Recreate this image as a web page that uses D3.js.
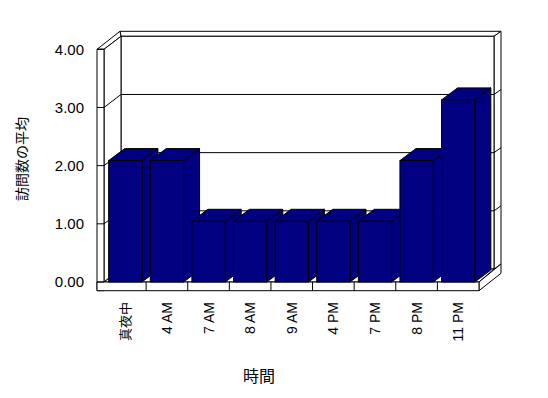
<!DOCTYPE html>
<html>
<head>
<meta charset="utf-8">
<script src="https://cdn.jsdelivr.net/npm/d3@7"></script>
<style>
  body { margin: 0; background: #fff; }
  text { font-family: "Liberation Sans", Arial, "Noto Sans CJK JP", sans-serif; fill: #000; }
</style>
</head>
<body>
<div id="chart"></div>
<script>
// data
var categories = ["真夜中", "4 AM", "7 AM", "8 AM", "9 AM", "4 PM", "7 PM", "8 PM", "11 PM"];
var values = [2, 2, 1, 1, 1, 1, 1, 2, 3];
var tickValues = [0, 1, 2, 3, 4];
var yTitle = "訪問数の平均";
var xTitle = "時間";

var width = 548, height = 398;
var navy = "#000080";

// 3D box geometry (front plane / back wall)
var front = { left: 97, inner: 104, right: 479, floorTop: 282, floorBottom: 290.7 };
var depth = { dx: 17, dy: -13 };     // front -> back wall inner face
var wall = { dx: 7, dy: -5 };        // back wall thickness
var barDepth = { dx: 16, dy: -12 };

var x = d3.scaleBand()
  .domain(categories)
  .range([front.inner + 0.5, front.right]);

var yFront = d3.scaleLinear().domain([0, 4]).range([front.floorTop, 49.3]);
var yBack = d3.scaleLinear().domain([0, 4]).range([front.floorTop + depth.dy, 49.3 + depth.dy]);
var yBar = d3.scaleLinear().domain([0, 4]).range([front.floorTop, front.floorTop - 4 * 60.7]);

var svg = d3.select("#chart").append("svg")
  .attr("width", width)
  .attr("height", height);

var box = svg.append("g")
  .attr("fill", "#fff")
  .attr("stroke", "#000")
  .attr("stroke-width", 1);

function poly(g, pts) {
  return g.append("polygon").attr("points", pts.map(function(p) { return p.join(","); }).join(" "));
}

var backL = front.inner + depth.dx, backR = front.right + depth.dx - 2;
var topB = yBack(4), botB = yBack(0);
var outerR = backR + wall.dx;

// back wall top + right faces
poly(box, [[backL, topB], [backR, topB], [outerR, topB + wall.dy], [backL - 1, topB + wall.dy]]);
poly(box, [[backR, topB], [outerR, topB + wall.dy], [outerR, front.floorTop - 18], [backR, botB]]);
// back wall inner face
poly(box, [[backL, topB], [backR, topB], [backR, botB], [backL, botB]]);
// left wall top + inner face
poly(box, [[front.left, yFront(4)], [front.inner, yFront(4)], [backL, topB], [backL - 1, topB + wall.dy]]);
poly(box, [[front.inner, yFront(4)], [backL, topB], [backL, botB], [front.inner, front.floorTop]]);
// left wall front face
poly(box, [[front.left, yFront(4)], [front.inner, yFront(4)], [front.inner, front.floorBottom], [front.left, front.floorBottom]]);
// floor top, right and front faces
poly(box, [[front.inner, front.floorTop], [backL, botB], [backR, botB], [front.right, front.floorTop]]);
poly(box, [[front.right, front.floorTop], [outerR, front.floorTop - 18], [outerR, front.floorBottom - 17.4], [front.right, front.floorBottom]]);
poly(box, [[front.left, front.floorTop], [front.right, front.floorTop], [front.right, front.floorBottom], [front.left, front.floorBottom]]);

// gridlines and ticks
var grid = svg.append("g").attr("stroke", "#000").attr("fill", "none");
tickValues.filter(function(v) { return v > 0 && v < 4; }).forEach(function(v) {
  grid.append("line").attr("x1", backL).attr("x2", backR).attr("y1", yBack(v)).attr("y2", yBack(v));
  grid.append("line").attr("x1", front.inner).attr("x2", backL).attr("y1", yFront(v)).attr("y2", yBack(v));
  grid.append("line").attr("x1", backR).attr("x2", outerR).attr("y1", yBack(v)).attr("y2", yBack(v) + wall.dy);
});
tickValues.forEach(function(v) {
  grid.append("line").attr("x1", front.left).attr("x2", front.inner).attr("y1", yFront(v)).attr("y2", yFront(v));
});
// category ticks on the floor front
categories.slice(1).forEach(function(c) {
  grid.append("line").attr("x1", x(c)).attr("x2", x(c)).attr("y1", front.floorTop).attr("y2", front.floorBottom);
});

// bars
var bars = svg.append("g").selectAll("g.bar")
  .data(categories.map(function(c, i) { return { cat: c, value: values[i] }; }))
  .join("g")
  .attr("class", "bar")
  .attr("fill", navy)
  .attr("stroke", "#000")
  .attr("stroke-linejoin", "miter");

bars.each(function(d) {
  var g = d3.select(this);
  var x0 = x(d.cat) + x.bandwidth() * 0.1;
  var x1 = x0 + x.bandwidth() * 0.8;
  var yt = yBar(d.value), yb = yBar(0);
  poly(g, [[x1, yt], [x1 + barDepth.dx, yt + barDepth.dy], [x1 + barDepth.dx, yb + barDepth.dy], [x1, yb]]);
  poly(g, [[x0, yt], [x0 + barDepth.dx, yt + barDepth.dy], [x1 + barDepth.dx, yt + barDepth.dy], [x1, yt]]);
  g.append("rect").attr("x", x0).attr("y", yt).attr("width", x1 - x0).attr("height", yb - yt);
});

// y tick labels
svg.append("g").selectAll("text")
  .data(tickValues)
  .join("text")
  .attr("x", 84)
  .attr("y", function(d) { return yFront(d); })
  .attr("dy", "0.36em")
  .attr("text-anchor", "end")
  .style("font-size", "15px")
  .text(function(d) { return d3.format(".2f")(d); });

// category labels
svg.append("g").selectAll("text")
  .data(categories)
  .join("text")
  .attr("transform", function(d) { return "translate(" + (x(d) + x.bandwidth() / 2) + ",302) rotate(-90)"; })
  .attr("text-anchor", "end")
  .attr("dy", "0.36em")
  .style("font-size", function(d) { return /[A-Z]/.test(d) ? "14px" : "13px"; })
  .text(function(d) { return d; });

// axis titles
svg.append("text")
  .attr("transform", "translate(22,159) rotate(-90)")
  .attr("text-anchor", "middle")
  .attr("dy", "0.36em")
  .style("font-size", "14px")
  .text(yTitle);

svg.append("text")
  .attr("x", 259)
  .attr("y", 376)
  .attr("text-anchor", "middle")
  .attr("dy", "0.36em")
  .style("font-size", "16px")
  .text(xTitle);
</script>
</body>
</html>
